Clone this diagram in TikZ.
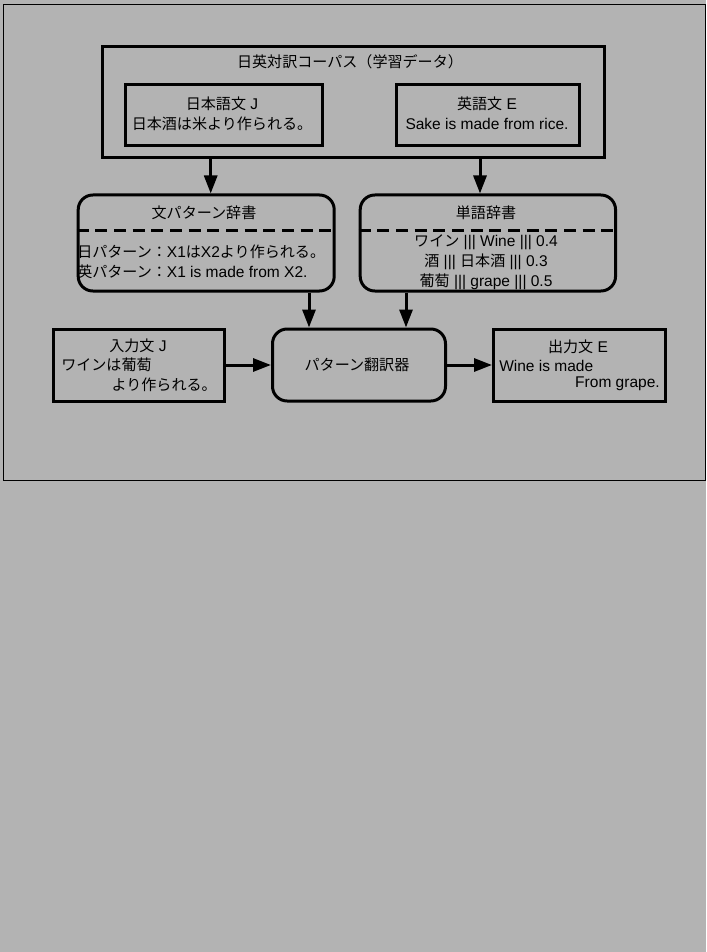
\documentclass[tikz,border=0pt]{standalone}
\usepackage{fontspec}
\setmainfont[Scale=1.03]{Liberation Sans}
\newfontfamily\jp{Noto Sans CJK JP}
\usetikzlibrary{arrows.meta}
\definecolor{bg}{RGB}{179,179,179}
\begin{document}
\begin{tikzpicture}[x=0.75pt,y=-0.75pt,
 box/.style={draw,line width=2.25pt,inner sep=0,anchor=north west},
 rbox/.style={box,rounded corners=11pt},
 arr/.style={line width=2.25pt,-{Triangle[length=13.5pt,width=9.75pt]}},
 txt/.style={inner sep=0,font=\fontsize{11.3}{13}\selectfont},
 dashline/.style={line width=2.25pt,dash pattern=on 9pt off 5pt}]
\fill[bg] (0,0) rectangle (706,952);
\useasboundingbox (0,0) rectangle (706,952);
\draw[line width=0.75pt] (3.5,4.5) rectangle (705,480);

% boxes
\node[box,minimum width=376.5pt,minimum height=83.25pt] (corpus) at (101,45.5) {};
\node[box,minimum width=147.75pt,minimum height=45.75pt] (jbox) at (124,83) {};
\node[box,minimum width=137.25pt,minimum height=45.75pt] (ebox) at (395,83) {};
\node[rbox,minimum width=192pt,minimum height=72pt] (patdict) at (76.7,193.5) {};
\node[rbox,minimum width=191.5pt,minimum height=72pt] (worddict) at (358.7,193.5) {};
\node[box,minimum width=128.25pt,minimum height=54pt] (inbox) at (52,327.5) {};
\node[rbox,minimum width=129.75pt,minimum height=54pt] (trans) at (271,327.5) {};
\node[box,minimum width=129pt,minimum height=54pt] (outbox) at (492,327.5) {};

% dashed separators
\draw[dashline] ([yshift=-27.4pt]patdict.north west) -- ([yshift=-27.4pt]patdict.north east);
\draw[dashline] ([yshift=-27.4pt]worddict.north west) -- ([yshift=-27.4pt]worddict.north east);

% texts
\node[txt] (t1) at (350,62) {\jp 日英対訳コーパス（学習データ）};
\node[txt] (t2) at (222,104) {{\jp 日本語文} J};
\node[txt] (t3) at (222,124) {\jp 日本酒は米より作られる。};
\node[txt] (t4) at (487,104) {{\jp 英語文} E};
\node[txt] (t5) at (487,124) {Sake is made from rice.};
\node[txt] (t6) at (204,213) {\jp 文パターン辞書};
\node[txt,anchor=west] (t7) at (77,252) {{\jp 日パターン：}X1{\jp は}X2{\jp より作られる。}};
\node[txt,anchor=west] (t8) at (77,272) {{\jp 英パターン：}X1 is made from X2.};
\node[txt] (t9) at (486,213) {\jp 単語辞書};
\node[txt] (t10) at (486,242) {{\jp ワイン} ||| Wine ||| 0.4};
\node[txt] (t11) at (486,262) {{\jp 酒} ||| {\jp 日本酒} ||| 0.3};
\node[txt] (t12) at (486,282) {{\jp 葡萄} ||| grape ||| 0.5};
\node[txt] (t13) at (138,346) {{\jp 入力文} J};
\node[txt,anchor=west] (t14) at (61,365) {\jp ワインは葡萄};
\node[txt,anchor=east] (t15) at (217,385) {\jp より作られる。};
\node[txt] (t16) at (357,365) {\jp パターン翻訳器};
\node[txt] (t17) at (578,347) {{\jp 出力文} E};
\node[txt,anchor=west] (t18) at (499,366) {Wine is made};
\node[txt,anchor=east] (t19) at (660,384) {From grape.};

% connectors
\coordinate (c1) at (210.7,0);
\coordinate (c2) at (480,0);
\coordinate (c3) at (309,0);
\coordinate (c4) at (406,0);
\draw[arr] (corpus.south -| c1) -- (patdict.north -| c1);
\draw[arr] (corpus.south -| c2) -- (worddict.north -| c2);
\draw[arr] (patdict.south -| c3) -- (trans.north -| c3);
\draw[arr] (worddict.south -| c4) -- (trans.north -| c4);
\draw[arr] (inbox.east) -- (trans.west);
\draw[arr] (trans.east) -- (outbox.west);
\end{tikzpicture}
\end{document}
